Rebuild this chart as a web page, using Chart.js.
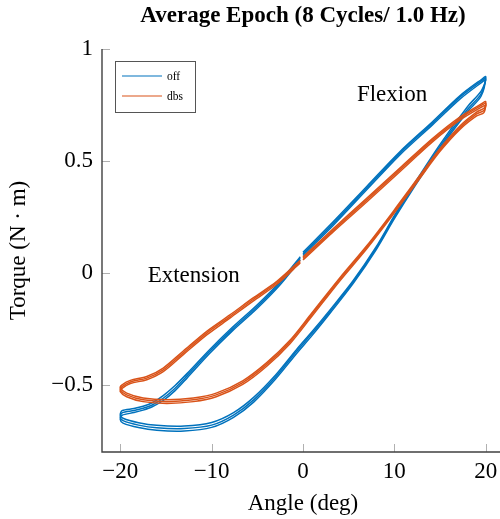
<!DOCTYPE html>
<html>
<head>
<meta charset="utf-8">
<script src="https://cdn.jsdelivr.net/npm/chart.js@4/dist/chart.umd.min.js"></script>
<style>
  html, body { margin: 0; padding: 0; background: #fff; overflow: hidden; }
  #wrap { width: 510px; height: 519px; }
</style>
</head>
<body>
<div id="wrap"><canvas id="c" width="510" height="519"></canvas></div>
<script>
// ---- data ----
const titleText = "Average Epoch (8 Cycles/ 1.0 Hz)";
const xTicks = [-20, -10, 0, 10, 20];
const yTicks = [-0.5, 0, 0.5, 1];
const seriesNames = ["off", "dbs"];

// "off" loop: angle samples (upper 0->20, lower 20->-20, upper -20->0)
const offX = [0, 3.3, 7, 10.6, 14.2, 17.2, 19.6, 20,
  19.5, 18, 15, 12, 10, 8, 5.5, 3, 1, -0.7, -3, -5.4, -7.6, -10, -13, -16, -18, -19.7, -20,
  -19.8, -18.5, -17.5, -16.5, -15.3, -14, -12.7, -10.2, -7.7, -5, -2.5, -0.3];
const offCycle1 = [0.085, 0.22, 0.38, 0.535, 0.67, 0.786, 0.86, 0.87,
  0.80, 0.73, 0.565, 0.38, 0.25, 0.11, -0.04, -0.17, -0.27, -0.35, -0.465, -0.567, -0.635, -0.68, -0.695, -0.692, -0.68, -0.66, -0.645,
  -0.625, -0.615, -0.605, -0.59, -0.56, -0.515, -0.46, -0.35, -0.25, -0.15, -0.045, 0.065];
const offCycle2 = [0.078, 0.212, 0.372, 0.527, 0.662, 0.777, 0.852, 0.862,
  0.812, 0.742, 0.574, 0.387, 0.256, 0.116, -0.034, -0.163, -0.262, -0.342, -0.456, -0.556, -0.624, -0.668, -0.684, -0.681, -0.669, -0.649, -0.634,
  -0.615, -0.606, -0.596, -0.58, -0.548, -0.503, -0.45, -0.342, -0.242, -0.142, -0.038, 0.072];
const offCycle3 = [0.092, 0.228, 0.387, 0.541, 0.676, 0.792, 0.866, 0.876,
  0.79, 0.72, 0.556, 0.372, 0.242, 0.103, -0.047, -0.178, -0.279, -0.36, -0.474, -0.577, -0.645, -0.69, -0.706, -0.703, -0.691, -0.671, -0.656,
  -0.636, -0.624, -0.613, -0.598, -0.57, -0.526, -0.47, -0.359, -0.258, -0.158, -0.053, 0.058];

// "dbs" loop
const dbsX = [0, 3.3, 7, 10.6, 14.2, 17.2, 19.6, 20,
  19.8, 19, 17.2, 15, 12.8, 9.9, 7, 4, 0.8, -1.4, -4, -6.6, -9.5, -12, -14.9, -17.5, -19.3, -20,
  -19.8, -18.9, -17.1, -15.3, -13.1, -10.5, -8, -5.5, -2.9, -0.3];
const dbsCycle1 = [0.065, 0.19, 0.326, 0.46, 0.594, 0.69, 0.75, 0.757,
  0.725, 0.71, 0.65, 0.55, 0.43, 0.27, 0.116, -0.03, -0.195, -0.307, -0.41, -0.49, -0.545, -0.567, -0.575, -0.567, -0.545, -0.522,
  -0.508, -0.487, -0.47, -0.433, -0.357, -0.268, -0.195, -0.12, -0.045, 0.05];
const dbsCycle2 = [0.058, 0.183, 0.318, 0.452, 0.586, 0.683, 0.742, 0.748,
  0.735, 0.718, 0.657, 0.556, 0.436, 0.276, 0.122, -0.024, -0.188, -0.3, -0.402, -0.482, -0.537, -0.559, -0.567, -0.559, -0.537, -0.514,
  -0.5, -0.48, -0.463, -0.425, -0.349, -0.26, -0.188, -0.113, -0.039, 0.056];
const dbsCycle3 = [0.071, 0.197, 0.334, 0.468, 0.601, 0.697, 0.757, 0.765,
  0.716, 0.701, 0.642, 0.543, 0.423, 0.263, 0.109, -0.037, -0.203, -0.315, -0.418, -0.498, -0.553, -0.575, -0.583, -0.575, -0.553, -0.53,
  -0.516, -0.494, -0.477, -0.441, -0.365, -0.276, -0.202, -0.127, -0.052, 0.044];

const annotations = [
  { text: "Flexion", x: 5.9, y: 0.768 },
  { text: "Extension", x: -17.0, y: -0.04 }
];

// ---- build ----
const BLUE = "#0072BD", ORANGE = "#D95319";
const SERIF = "'Liberation Serif', 'DejaVu Serif', serif";
function pts(xs, ys) { return xs.map((x, i) => ({ x: x, y: ys[i] })); }
function ds(label, xs, ys, color, order) {
  return { label: label, data: pts(xs, ys), showLine: true, borderColor: color, backgroundColor: color,
    borderWidth: 1.5, pointRadius: 0, tension: 0.3, fill: false, order: order };
}
const datasets = [
  ds(seriesNames[0], offX, offCycle1, BLUE, 2),
  ds(seriesNames[0], offX, offCycle2, BLUE, 2),
  ds(seriesNames[0], offX, offCycle3, BLUE, 2),
  ds(seriesNames[1], dbsX, dbsCycle1, ORANGE, 1),
  ds(seriesNames[1], dbsX, dbsCycle2, ORANGE, 1),
  ds(seriesNames[1], dbsX, dbsCycle3, ORANGE, 1)
];

function fmt(v) {
  const s = String(Math.abs(v));
  return v < 0 ? "\u2212" + s : s;
}

const decor = {
  id: "decor",
  afterDraw(chart) {
    const ctx = chart.ctx, a = chart.chartArea;
    const xs = chart.scales.x, ys = chart.scales.y;
    ctx.save();
    // tick marks (inward)
    ctx.strokeStyle = "#b0b0b0"; ctx.lineWidth = 1;
    xTicks.forEach(v => { const p = Math.round(xs.getPixelForValue(v)) + 0.5;
      ctx.beginPath(); ctx.moveTo(p, a.bottom); ctx.lineTo(p, a.bottom - 8); ctx.stroke(); });
    yTicks.forEach(v => { const p = Math.round(ys.getPixelForValue(v)) + 0.5;
      ctx.beginPath(); ctx.moveTo(a.left, p); ctx.lineTo(a.left + 8, p); ctx.stroke(); });
    // axis lines
    ctx.strokeStyle = "#404040"; ctx.lineWidth = 1.4;
    ctx.beginPath(); ctx.moveTo(a.left, a.top); ctx.lineTo(a.left, a.bottom); ctx.lineTo(a.right, a.bottom); ctx.stroke();
    // title
    ctx.fillStyle = "#000";
    ctx.font = "bold 23px " + SERIF; ctx.textAlign = "center"; ctx.textBaseline = "alphabetic";
    ctx.fillText(titleText, (a.left + a.right) / 2, 22);
    // axis titles
    ctx.font = "23px " + SERIF;
    ctx.fillText("Angle (deg)", (a.left + a.right) / 2, 510);
    ctx.save(); ctx.translate(19, (a.top + a.bottom) / 2); ctx.rotate(-Math.PI / 2);
    ctx.textBaseline = "middle"; ctx.fillText("Torque (N \u00B7 m)", 0, 0); ctx.restore();
    // annotations
    ctx.textAlign = "left"; ctx.textBaseline = "alphabetic";
    annotations.forEach(t => ctx.fillText(t.text, xs.getPixelForValue(t.x), ys.getPixelForValue(t.y)));
    // legend
    const lx = a.left + 13, ly = a.top + 12;
    ctx.fillStyle = "#fff"; ctx.fillRect(lx, ly, 80, 51);
    ctx.strokeStyle = "#555"; ctx.lineWidth = 1;
    ctx.strokeRect(lx + 0.5, ly + 0.5, 80, 51);
    [[BLUE, seriesNames[0], 15], [ORANGE, seriesNames[1], 35]].forEach(([c, n, dy]) => {
      ctx.strokeStyle = c; ctx.lineWidth = 1.2;
      ctx.beginPath(); ctx.moveTo(lx + 7, ly + dy); ctx.lineTo(lx + 47, ly + dy); ctx.stroke();
      ctx.fillStyle = "#000"; ctx.font = "11.5px " + SERIF;
      ctx.fillText(n, lx + 52, ly + dy + 3.5);
    });
    ctx.restore();
  }
};

new Chart(document.getElementById("c"), {
  type: "scatter",
  data: { datasets: datasets },
  options: {
    responsive: false, animation: false, devicePixelRatio: 1,
    layout: { padding: { top: 49, right: 6, left: 0, bottom: 0 } },
    plugins: { legend: { display: false }, title: { display: false }, tooltip: { enabled: false } },
    scales: {
      x: {
        type: "linear", min: -22, max: 22,
        grid: { display: false, drawTicks: false }, border: { display: false },
        afterBuildTicks: s => { s.ticks = xTicks.map(v => ({ value: v })); },
        afterFit: s => { s.height = 67; },
        ticks: { padding: 6, color: "#000", font: { family: SERIF, size: 23 }, callback: v => fmt(v), maxRotation: 0 }
      },
      y: {
        type: "linear", min: -0.8, max: 1,
        grid: { display: false, drawTicks: false }, border: { display: false },
        afterBuildTicks: s => { s.ticks = yTicks.map(v => ({ value: v })); },
        afterFit: s => { s.width = 102; },
        ticks: { padding: 9, color: "#000", font: { family: SERIF, size: 23 }, callback: v => fmt(v) }
      }
    }
  },
  plugins: [decor]
});
</script>
</body>
</html>
